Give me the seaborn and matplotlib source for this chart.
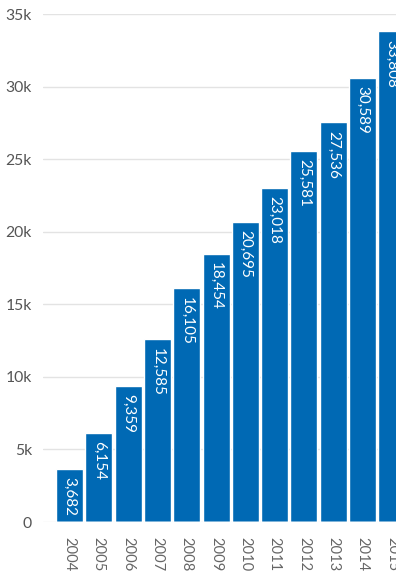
import matplotlib
matplotlib.use("Agg")
import matplotlib.pyplot as plt
import seaborn as sns
import pandas as pd

years = ["2004", "2005", "2006", "2007", "2008", "2009", "2010", "2011", "2012", "2013", "2014", "2015"]
values = [3682, 6154, 9359, 12585, 16105, 18454, 20695, 23018, 25581, 27536, 30589, 33808]
yticks = [0, 5000, 10000, 15000, 20000, 25000, 30000, 35000]
ytick_labels = ["0", "5k", "10k", "15k", "20k", "25k", "30k", "35k"]

sns.set_theme(style="white")
plt.rcParams["font.family"] = ["Lato", "DejaVu Sans"]

W, H = 396, 573
fig = plt.figure(figsize=(W / 100, H / 100), dpi=100)
ax = fig.add_axes([43 / W, (H - 522) / H, (W - 43) / W, (522 - 14) / H])

df = pd.DataFrame({"year": years, "value": values})
ax.set_axisbelow(True)
for t in yticks:
    ax.axhline(t, color="#e3e3e3", lw=1, zorder=0)

sns.barplot(data=df, x="year", y="value", color="#0069b4", saturation=1,
            width=0.92, ax=ax, zorder=2)
ax.axhline(0, color="#ffffff", lw=1.2, alpha=0.45, zorder=3)

for i, v in enumerate(values):
    ax.annotate(f"{v:,}", xy=(i, v), xytext=(0, -6), textcoords="offset points",
                rotation=270, ha="center", va="top", color="white",
                fontsize=11, clip_on=True, zorder=4)

ax.set_xlim(-0.904, 11.14)
ax.set_ylim(0, 35000)
ax.set_yticks(yticks)
ax.set_yticklabels(ytick_labels)
ax.set_xlabel("")
ax.set_ylabel("")
for s in ax.spines.values():
    s.set_visible(False)
ax.tick_params(axis="y", length=0, pad=8, labelsize=11.3, labelcolor="#555555")
ax.tick_params(axis="x", length=0, pad=11, labelsize=10.6, labelcolor="#666666",
               labelrotation=270)
for lbl in ax.get_xticklabels():
    lbl.set_va("top")
    lbl.set_ha("center")

fig.savefig("out.png", dpi=100)
